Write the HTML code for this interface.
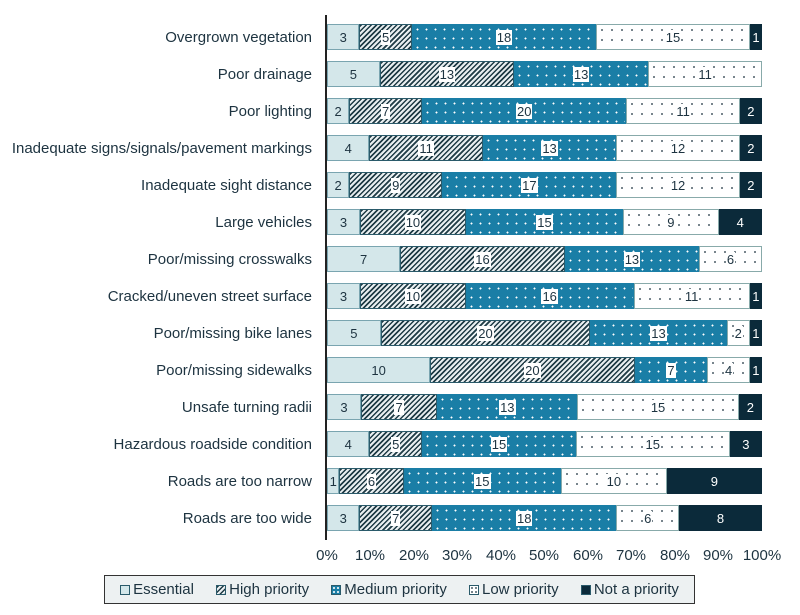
<!DOCTYPE html><html><head><style>
body{margin:0;width:800px;height:615px;background:#fff;font-family:"Liberation Sans",sans-serif;position:relative;overflow:hidden;color:#1d3340}
.lab{position:absolute;right:488px;font-size:15px;text-align:right;white-space:nowrap;line-height:16px}
.bar{position:absolute;left:327px;width:435px;height:26px;display:flex}
.s{position:relative;box-sizing:border-box;display:flex;align-items:center;justify-content:center;font-size:13px;border:1px solid #2a5a6a}
.e{background:#d4e7ea;border-color:#7aa5b0}
.h{background:repeating-linear-gradient(135deg,#1f3b45 0 1.6px,#e8eef0 1.6px 3.6px)}
.m{background:#1a7ea6 radial-gradient(circle,#fff 0.8px,transparent 1.1px) 0 0/9px 9px;border-color:#1a7ea6}
.l{background:#fff radial-gradient(circle,#1d3340 0.7px,transparent 1px) 0 0/10px 10px;border-color:#8aa}
.n{background:#0b2a3a;color:#fff;border-color:#0b2a3a}
.s span{background:#fff;padding:0 1px;line-height:15px}
.e span,.n span{background:none}
.tick{position:absolute;top:547px;font-size:15px;transform:translateX(-50%)}
.leg{position:absolute;left:104px;top:575px;width:591px;height:29px;border:1.5px solid #333;background:#edf1f2;display:flex;align-items:center;justify-content:space-around;font-size:15px;box-sizing:border-box;padding:0 4px}
.sw{display:inline-block;width:10px;height:10px;margin-right:3px;vertical-align:-1px;box-sizing:border-box;border:1px solid #2a5a6a}
</style></head><body>
<div style="position:absolute;left:325px;top:15px;width:1.5px;height:525px;background:#222"></div>
<div id="c"></div>
<div class="tick" style="left:327px">0%</div><div class="tick" style="left:370px">10%</div><div class="tick" style="left:414px">20%</div><div class="tick" style="left:457px">30%</div><div class="tick" style="left:501px">40%</div><div class="tick" style="left:544px">50%</div><div class="tick" style="left:588px">60%</div><div class="tick" style="left:631px">70%</div><div class="tick" style="left:675px">80%</div><div class="tick" style="left:718px">90%</div><div class="tick" style="left:762px">100%</div>
<div class="leg"><span><i class="sw e"></i>Essential</span><span><i class="sw h"></i>High priority</span><span><i class="sw m" style="background-size:4px 4px"></i>Medium priority</span><span><i class="sw l" style="background-size:4px 4px"></i>Low priority</span><span><i class="sw n"></i>Not a priority</span></div>
<script>
var d=[["Overgrown vegetation",3,5,18,15,1],["Poor drainage",5,13,13,11,0],["Poor lighting",2,7,20,11,2],["Inadequate signs/signals/pavement markings",4,11,13,12,2],["Inadequate sight distance",2,9,17,12,2],["Large vehicles",3,10,15,9,4],["Poor/missing crosswalks",7,16,13,6,0],["Cracked/uneven street surface",3,10,16,11,1],["Poor/missing bike lanes",5,20,13,2,1],["Poor/missing sidewalks",10,20,7,4,1],["Unsafe turning radii",3,7,13,15,2],["Hazardous roadside condition",4,5,15,15,3],["Roads are too narrow",1,6,15,10,9],["Roads are too wide",3,7,18,6,8]];
var cls="ehmln",h="";
d.forEach(function(r,i){var y=24+i*37;h+='<div class="lab" style="top:'+(y+6)+'px">'+r[0]+'</div><div class="bar" style="top:'+y+'px">';
for(var k=1;k<6;k++)if(r[k])h+='<div class="s '+cls[k-1]+'" style="flex:'+r[k]+' 1 0"><span>'+r[k]+'</span></div>';h+='</div>';});
document.getElementById("c").innerHTML=h;
</script></body></html>
